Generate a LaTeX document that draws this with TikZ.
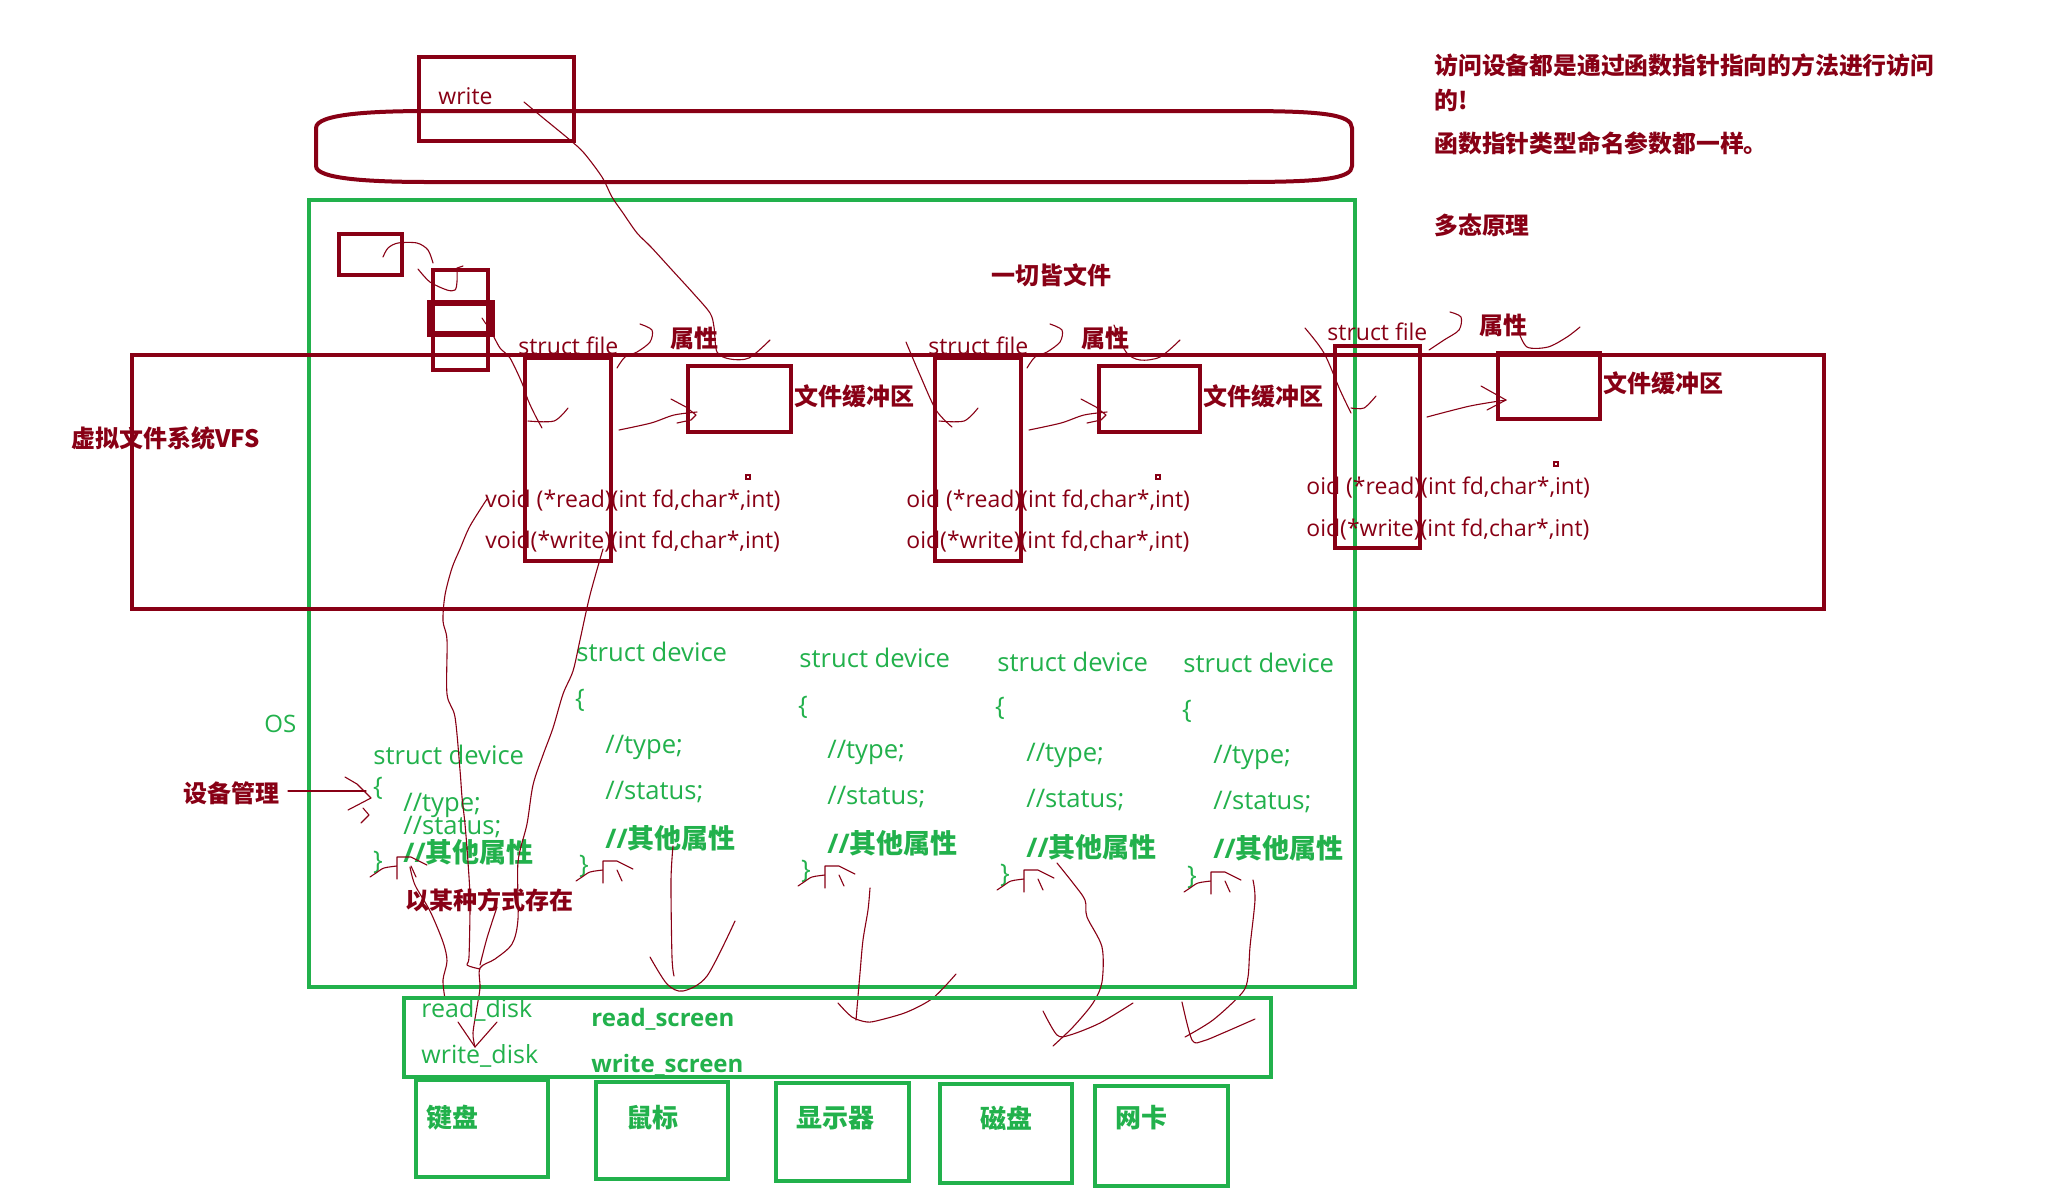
\documentclass[tikz,border=0pt]{standalone}
\usepackage{fontspec}
\setmainfont{Open Sans}
\newfontfamily\inkfont{Open Sans}
\newfontfamily\cjk{Noto Sans CJK SC}
\usetikzlibrary{fit}
\definecolor{inkred}{HTML}{880015}
\definecolor{inkgreen}{HTML}{22B14C}
\tikzset{
  rbox/.style  ={draw=inkred, line width=2.3pt, inner sep=0pt},
  gbox/.style  ={draw=inkgreen, line width=2.2pt, inner sep=0pt},
  pen/.style   ={draw=inkred, line width=0.55pt, line cap=round, line join=round},
  rlab/.style  ={text=inkred, font=\cjk\bfseries\fontsize{12}{14}\selectfont,
                 anchor=west, inner sep=0pt},
  rnote/.style ={rlab, font=\cjk\bfseries\fontsize{11.9}{14}\selectfont},
  rcode/.style ={text=inkred, font=\inkfont\fontsize{11.5}{14}\selectfont, anchor=west, inner sep=0pt},
  gcode/.style ={text=inkgreen, font=\inkfont\fontsize{12.8}{15}\selectfont, anchor=west, inner sep=0pt},
  gattr/.style ={text=inkgreen, font=\bfseries\fontsize{13.5}{15}\selectfont, anchor=west, inner sep=0pt},
  gbrace/.style={text=inkgreen, font=\inkfont\fontsize{12.8}{15}\selectfont, inner sep=0pt},
  gfunc/.style ={text=inkgreen, font=\inkfont\fontsize{12.5}{15}\selectfont, anchor=west, inner sep=0pt},
  gfuncb/.style={gfunc, font=\bfseries\fontsize{12}{15}\selectfont},
  gdev/.style  ={text=inkgreen, font=\cjk\bfseries\fontsize{13}{15}\selectfont, anchor=west, inner sep=0pt},
}
\newcommand{\bracehook}[1]{%
  \draw[pen, shift={#1}] plot[smooth] coordinates {(-8,15) (-2,11) (6,6) (19,4)}
    (19,17) -- (19,-5) -- (33,-5) -- (49,3) (33,4) -- (38,15);}

\begin{document}
\begin{tikzpicture}[x=0.5pt, y=-0.5pt]
  \fill[white] (0,0) rectangle (2063,1191);
  \useasboundingbox (0,0) rectangle (2063,1191);

  % user space
  \node[rbox, fit={(419,57) (574,141)}] (writebox) {};
  \node[rcode] (writetxt) at (438,96) {write};
  \draw[inkred, line width=2pt] (316,128) .. controls (316,114) and (370,111) .. (430,111)
    -- (1240,111) .. controls (1320,111) and (1352,114) .. (1352,128) -- (1352,166)
    .. controls (1352,179) and (1320,182) .. (1240,182) -- (430,182)
    .. controls (370,182) and (316,179) .. (316,166) -- cycle;

  % notes
  \node[rnote] (note1) at (1434,65) {访问设备都是通过函数指针指向的方法进行访问};
  \node[rnote] (note2) at (1434,100) {的!};
  \node[rnote] (note3) at (1434,143) {函数指针类型命名参数都一样。};
  \node[rnote] (note4) at (1434,225) {多态原理};

  % kernel and VFS
  \node[gbox, fit={(309,200) (1355,987)}] (osbox) {};
  \node[rbox, fit={(132,355) (1824,609)}] (vfsbox) {};
  \node[rlab] (vfslab) at (71,438) {虚拟文件系统VFS};
  \node[rlab] (motto) at (991,275) {一切皆文件};
  \node[text=inkgreen, font=\inkfont\fontsize{12}{14}\selectfont, anchor=west, inner sep=0pt] (oslab) at (264,724) {OS};

  \node[rbox, fit={(339,234) (402,275)}] (slotA) {};
  \node[rbox, fit={(433,270) (488,370)}] (slotB) {};
  \node[rbox, line width=3pt, fit={(430,303) (492,334)}] (slotC) {};
  \draw[pen] plot[smooth] coordinates {(383,257) (388,248) (398,243) (417,243) (428,250) (433,263)};
  \draw[pen] plot[smooth] coordinates {(418,269) (430,282) (447,290) (455,290) (457,282) (457,268)} -- (463,266);
  \draw[pen] (482,318) -- (486,324);

  % struct file 1
  \node[rbox, fit={(525,358) (611,561)}] (file1) {};
  \node[rcode] (fname1) at (518,346) {struct file};
  \node[rlab] (attr1) at (670,338) {属性};
  \node[rbox, fit={(688,366) (791,432)}] (buf1) {};
  \node[rlab] (buflab1) at (794,396) {文件缓冲区};
  \node[rcode] (read1) at (485,501) {void (*read)(int fd,char*,int)};
  \node[rcode] (write1) at (485,542) {void(*write)(int fd,char*,int)};
  \draw[inkred, line width=0.6pt] (746,475) rectangle (750,479);

  % struct file 2
  \node[rbox, fit={(935,358) (1021,561)}] (file2) {};
  \node[rcode] (fname2) at (928,346) {struct file};
  \node[rlab] (attr2) at (1081,338) {属性};
  \node[rbox, fit={(1099,366) (1200,432)}] (buf2) {};
  \node[rlab] (buflab2) at (1203,396) {文件缓冲区};
  \node[rcode] (read2) at (906,501) {oid (*read)(int fd,char*,int)};
  \node[rcode] (write2) at (906,542) {oid(*write)(int fd,char*,int)};
  \draw[inkred, line width=0.6pt] (1156,475) rectangle (1160,479);

  % struct file 3
  \node[rbox, fit={(1335,346) (1420,548)}] (file3) {};
  \node[rcode] (fname3) at (1327,332) {struct file};
  \node[rlab] (attr3) at (1479,325) {属性};
  \node[rbox, fit={(1498,353) (1600,419)}] (buf3) {};
  \node[rlab] (buflab3) at (1603,383) {文件缓冲区};
  \node[rcode] (read3) at (1306,488) {oid (*read)(int fd,char*,int)};
  \node[rcode] (write3) at (1306,530) {oid(*write)(int fd,char*,int)};
  \draw[inkred, line width=0.6pt] (1554,462) rectangle (1558,466);

  % strokes on the file structs
  \draw[pen] plot[smooth] coordinates {(524,102) (542,117) (570,140) (584,153) (602,177) (612,197)
    (623,213) (637,233) (651,247) (672,270) (693,293) (710,313) (714,327) (717,352) (730,359) (749,358) (770,340)};
  \draw[pen] plot[smooth] coordinates {(492,333) (500,348) (510,358) (522,383) (528,400) (535,415) (542,428)};
  \draw[pen] plot[smooth] coordinates {(906,342) (920,375) (936,410) (952,427)};
  \draw[pen] plot[smooth] coordinates {(1305,328) (1324,353) (1340,390) (1351,413)};
  \draw[pen] plot[smooth] coordinates {(528,421) (554,421) (568,408)};
  \draw[pen] plot[smooth] coordinates {(939,421) (964,421) (978,408)};
  \draw[pen] plot[smooth] coordinates {(1351,408) (1364,408) (1376,396)};
  \draw[pen] plot[smooth] coordinates {(640,324) (652,330) (650,342) (637,352) (625,357) (617,368)};
  \draw[pen] plot[smooth] coordinates {(1050,324) (1062,330) (1060,342) (1047,352) (1035,357) (1027,368)};
  \draw[pen] plot[smooth] coordinates {(1450,312) (1461,317) (1459,330) (1444,340) (1429,350)};
  \draw[pen] plot[smooth] coordinates {(1114,325) (1126,352) (1140,360) (1160,357) (1180,340)};
  \draw[pen] plot[smooth] coordinates {(1518,330) (1527,347) (1548,347) (1567,337) (1580,327)};
  \draw[pen] plot[smooth] coordinates {(619,430) (651,423) (674,415) (697,412)};
  \draw[pen] (671,399) -- (686,407) -- (696,415) -- (691,420) -- (677,423);
  \draw[pen] plot[smooth] coordinates {(1029,430) (1061,423) (1084,415) (1107,412)};
  \draw[pen] (1081,399) -- (1096,407) -- (1106,415) -- (1101,420) -- (1087,423);
  \draw[pen] plot[smooth] coordinates {(1427,417) (1470,406) (1506,400)};
  \draw[pen] (1481,386) -- (1506,400) -- (1487,410);

  % device management
  \node[rlab] (mgmt) at (183,793) {设备管理};
  \draw[pen] (288,791) -- (366,791);
  \draw[pen] (345,777) -- (357,784) -- (371,798) -- (348,810) (363,808) -- (369,815) -- (361,823);

  % struct device 0
  \node[gcode] (dev0) at (373,755) {struct device};
  \node[gbrace] (open0) at (378,788) {\{};
  \node[gcode] (type0) at (403,805) {//type;};
  \node[gcode] (stat0) at (403,827) {//status;};
  \node[gattr] (other0) at (403,852) {//{\cjk 其他属性}};
  \node[gbrace] (close0) at (378,862) {\}};
  \node[rlab] (stored) at (405,900) {以某种方式存在};

  % struct device 1..4
  \node[gcode] (dev1) at (576,652) {struct device};
  \node[gbrace] (open1) at (580,700) {\{};
  \node[gcode] (type1) at (605,747) {//type;};
  \node[gcode] (stat1) at (605,792) {//status;};
  \node[gattr] (other1) at (605,838) {//{\cjk 其他属性}};
  \node[gbrace] (close1) at (584,866) {\}};

  \node[gcode] (dev2) at (799,658) {struct device};
  \node[gbrace] (open2) at (803,707) {\{};
  \node[gcode] (type2) at (827,752) {//type;};
  \node[gcode] (stat2) at (827,797) {//status;};
  \node[gattr] (other2) at (827,843) {//{\cjk 其他属性}};
  \node[gbrace] (close2) at (806,871) {\}};

  \node[gcode] (dev3) at (997,662) {struct device};
  \node[gbrace] (open3) at (1000,708) {\{};
  \node[gcode] (type3) at (1026,755) {//type;};
  \node[gcode] (stat3) at (1026,800) {//status;};
  \node[gattr] (other3) at (1026,847) {//{\cjk 其他属性}};
  \node[gbrace] (close3) at (1005,875) {\}};

  \node[gcode] (dev4) at (1183,663) {struct device};
  \node[gbrace] (open4) at (1187,711) {\{};
  \node[gcode] (type4) at (1213,757) {//type;};
  \node[gcode] (stat4) at (1213,802) {//status;};
  \node[gattr] (other4) at (1213,848) {//{\cjk 其他属性}};
  \node[gbrace] (close4) at (1192,877) {\}};

  \bracehook{(378,862)}
  \bracehook{(584,866)}
  \bracehook{(806,871)}
  \bracehook{(1005,875)}
  \bracehook{(1192,877)}

  % strokes down to the drivers
  \draw[pen] plot[smooth] coordinates {(487,499) (470,526) (460,549) (452,568) (445,595) (443,621)
    (447,640) (447,694) (455,717) (460,770) (462,797) (465,824) (468,862) (470,900) (469,957) (467,965) (480,969)};
  \draw[pen] plot[smooth] coordinates {(603,549) (590,595) (580,640) (573,671) (563,694) (553,728)
    (543,755) (533,785) (527,824) (518,862) (518,919) (512,944) (495,959) (480,968) (480,988) (477,1007) (473,1033) (475,1047)};
  \draw[pen] (458,1022) -- (475,1047) -- (497,1022);
  \draw[pen] plot[smooth] coordinates {(410,867) (415,885) (430,911) (443,942) (447,961) (443,980) (445,999)};
  \draw[pen] plot[smooth] coordinates {(497,907) (487,938) (480,965)};
  \draw[pen] plot[smooth] coordinates {(673,846) (671,881) (672,957) (674,976)};
  \draw[pen] plot[smooth] coordinates {(650,957) (667,984) (683,991) (707,976) (735,921)};
  \draw[pen] plot[smooth] coordinates {(870,888) (868,910) (863,940) (860,973) (856,1020)};
  \draw[pen] plot[smooth] coordinates {(838,1003) (852,1017) (867,1022) (880,1020) (907,1012) (933,998) (956,974)};
  \draw[pen] plot[smooth] coordinates {(1057,863) (1073,883) (1085,900) (1087,917) (1102,947) (1102,982)
    (1093,1003) (1073,1027) (1053,1046)};
  \draw[pen] plot[smooth] coordinates {(1043,1011) (1057,1035) (1070,1035) (1100,1023) (1133,1003)};
  \draw[pen] plot[smooth] coordinates {(1253,880) (1255,900) (1250,947) (1248,977) (1242,993) (1213,1020) (1185,1037)};
  \draw[pen] plot[smooth] coordinates {(1182,1002) (1192,1040) (1203,1041) (1223,1033) (1255,1019)};

  % driver functions
  \node[gbox, line width=1.6pt, fit={(404,998) (1271,1077)}] (funcbox) {};
  \node[gfunc] (rdisk) at (421,1010) {read\_disk};
  \node[gfunc] (wdisk) at (421,1056) {write\_disk};
  \node[gfuncb] (rscreen) at (591,1019) {read\_screen};
  \node[gfuncb] (wscreen) at (591,1065) {write\_screen};

  % hardware
  \node[gbox, fit={(416,1080) (548,1177)}] (keyboard) {};
  \node[gdev] (kblab) at (426,1118) {键盘};
  \node[gbox, fit={(596,1082) (728,1179)}] (mouse) {};
  \node[gdev] (mslab) at (626,1118) {鼠标};
  \node[gbox, fit={(776,1083) (909,1181)}] (monitor) {};
  \node[gdev] (mnlab) at (796,1118) {显示器};
  \node[gbox, fit={(940,1084) (1072,1183)}] (disk) {};
  \node[gdev] (dklab) at (980,1118) {磁盘};
  \node[gbox, fit={(1095,1086) (1228,1186)}] (netcard) {};
  \node[gdev] (nclab) at (1115,1118) {网卡};
\end{tikzpicture}
\end{document}
